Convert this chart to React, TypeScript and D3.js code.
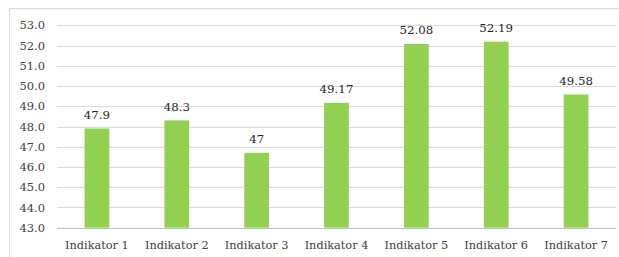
import React from 'react';
import * as d3 from 'd3';

const categories = ['Indikator 1', 'Indikator 2', 'Indikator 3', 'Indikator 4', 'Indikator 5', 'Indikator 6', 'Indikator 7'];
const values = [47.9, 48.3, 46.7, 49.17, 52.08, 52.19, 49.58];
const valueLabels = ['47.9', '48.3', '47', '49.17', '52.08', '52.19', '49.58'];
const yTicks = [43, 44, 45, 46, 47, 48, 49, 50, 51, 52, 53];

const App = () => {
  const width = 619;
  const height = 257;
  const marginLeft = 57;
  const marginRight = 3;
  const marginTop = 25.3;
  const plotBottom = 227.7;
  const font = "'DejaVu Serif', serif";

  const x = d3.scaleBand().domain(categories).range([marginLeft, width - marginRight]).paddingInner(0.69).paddingOuter(0.345);
  const y = d3.scaleLinear().domain([43, 53]).range([plotBottom, marginTop]);

  return (
    <svg width={width} height={height} style={{ position: 'absolute', left: 0, top: 0, background: '#fff', fontFamily: font }}>
      <rect x={9.5} y={8.5} width={width + 10} height={height} fill="#fff" stroke="#d9d9d9" />
      {yTicks.map(t => (
        <g key={t}>
          <line x1={marginLeft} x2={width - marginRight} y1={Math.round(y(t)) + 0.5} y2={Math.round(y(t)) + 0.5}
            stroke={t === 43 ? '#bfbfbf' : '#d9d9d9'} />
          <text x={45} y={y(t)} dy="0.36em" textAnchor="end" style={{ fontFamily: font, fontSize: 11.5 }} fill="#404040">
            {t.toFixed(1)}
          </text>
        </g>
      ))}
      {categories.map((c, i) => (
        <g key={c}>
          <rect x={x(c)} y={y(values[i])} width={x.bandwidth()} height={y(43) - y(values[i])} fill="#92d050" />
          <text x={x(c)! + x.bandwidth() / 2} y={y(values[i]) - 9.5} textAnchor="middle" style={{ fontFamily: font, fontSize: 11.8 }} fill="#262626">
            {valueLabels[i]}
          </text>
          <text x={x(c)! + x.bandwidth() / 2} y={248.5} textAnchor="middle" style={{ fontFamily: font, fontSize: 11.3 }} fill="#404040">
            {c}
          </text>
        </g>
      ))}
    </svg>
  );
};

export default App;
